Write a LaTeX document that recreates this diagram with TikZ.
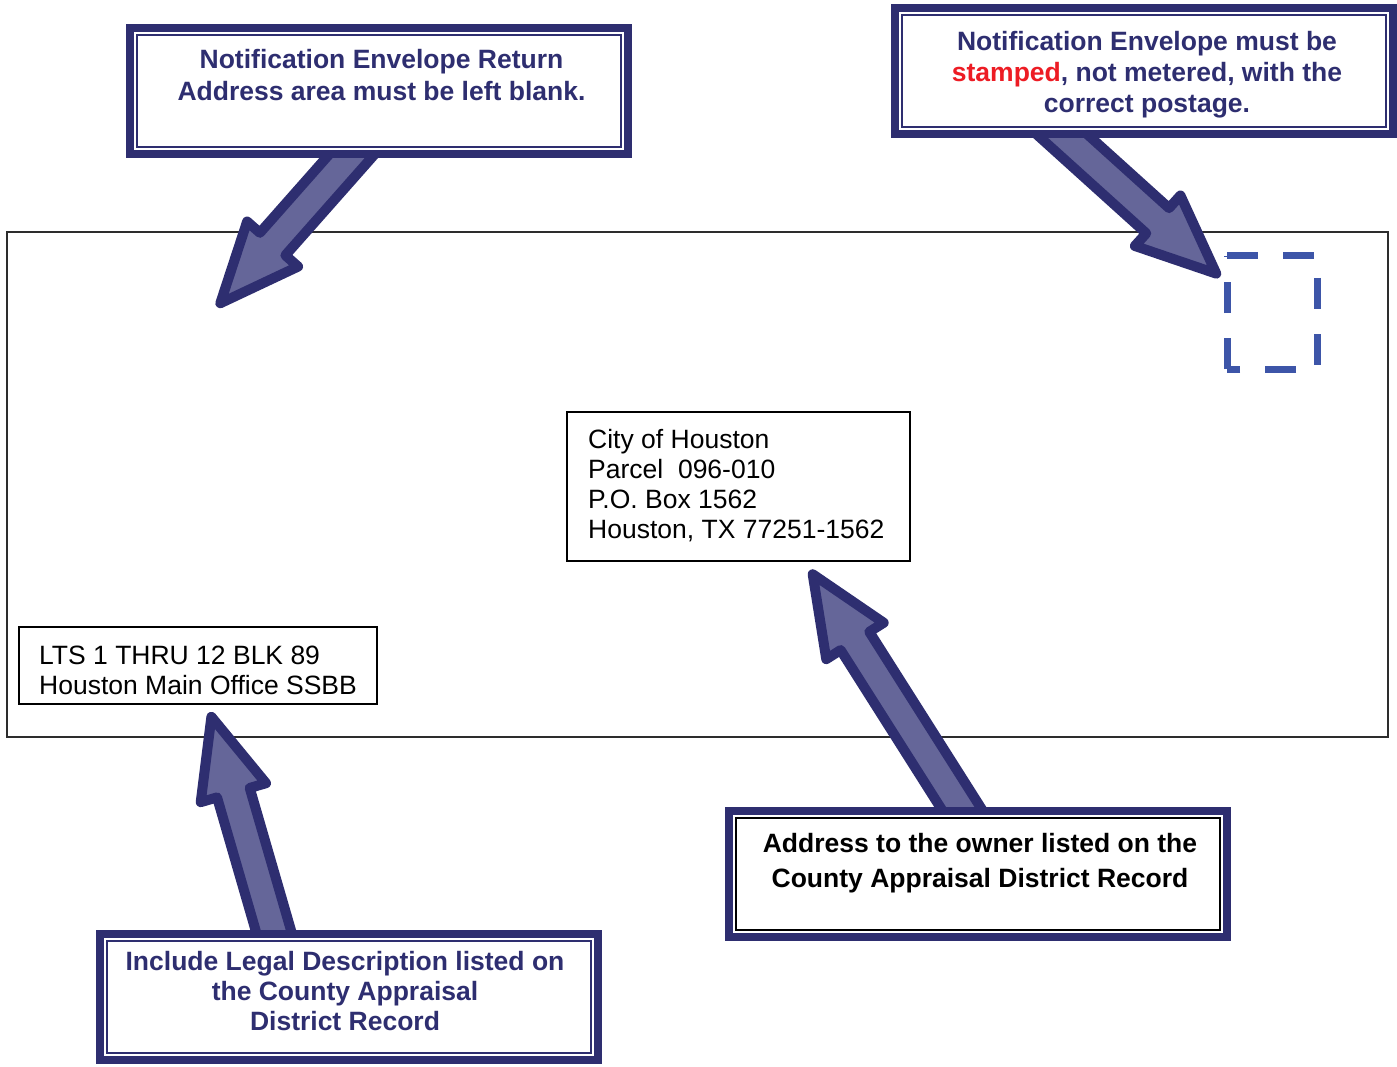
\documentclass[tikz,border=0pt]{standalone}
\usepackage{fontspec}
\setmainfont{Liberation Sans}
\usetikzlibrary{calc}
\definecolor{navy}{RGB}{46,46,112}
\definecolor{arrowfill}{RGB}{101,102,153}
\definecolor{stampblue}{RGB}{61,85,168}
\definecolor{stampred}{RGB}{237,28,36}
\definecolor{envline}{RGB}{45,45,45}
\newcommand\blockarrow[2]{%
  \path ($(#2)!5pt!(#1)$) coordinate (bt) ($(bt)!79pt!(#1)$) coordinate (bb);
  \draw[blockarrowstyle] ($(#1)!17pt!90:(#2)$) -- ($(bb)!17pt!90:(bt)$) -- ($(bb)!34pt!90:(bt)$) -- (bt)
     -- ($(bb)!34pt!-90:(bt)$) -- ($(bb)!17pt!-90:(bt)$) -- ($(#1)!17pt!-90:(#2)$) -- cycle;
}
\begin{document}
\begin{tikzpicture}[x=1pt,y=-1pt,
  blockarrowstyle/.style={draw=navy, fill=arrowfill, line width=10pt, line join=round},
  callout/.style={rectangle, minimum width=484pt, minimum height=112pt, inner sep=0pt, outer sep=0pt,
     fill=white, draw=navy, line width=2pt,
     preaction={draw=navy, line width=22pt},
     preaction={draw=white, line width=6pt}},
  callouttext/.style={anchor=north, align=center, inner sep=0pt, text=navy},
  plainbox/.style={rectangle, draw=black, line width=1.6pt, inner sep=0pt, outer sep=0pt},
  plaintext/.style={anchor=north west, align=left, inner sep=0pt, text=black,
     font=\fontsize{26.5pt}{30pt}\selectfont},
  stampdash/.style={draw=stampblue, line width=7pt, dash pattern=on 31pt off 25pt}
]
\useasboundingbox (0,0) rectangle (1397,1067);
\fill[white] (0,0) rectangle (1397,1067);

% envelope
\node[rectangle, draw=envline, line width=1.5pt, minimum width=1381pt, minimum height=505pt, inner sep=0pt] (env) at (697.5,484.5) {};

% address box
\node[plainbox, minimum width=343pt, minimum height=149pt] (addr) at (738.5,486.5) {};
\node[plaintext] (addrtext) at (588,429) {City of Houston\\Parcel\ \ 096-010\\P.O. Box 1562\\Houston, TX 77251-1562};

% legal description box
\node[plainbox, minimum width=358pt, minimum height=77pt] (legal) at (198,665.5) {};
\node[plaintext] (legaltext) at (39,646) {LTS 1 THRU 12 BLK 89\\Houston Main Office SSBB};

% stamp area
\node[rectangle, minimum width=90pt, minimum height=113pt, inner sep=0pt, outer sep=0pt] (stamp) at (1272,312.5) {};
\draw[stampdash] (stamp.north west) -- (stamp.north east) -- (stamp.south east) -- (stamp.south west);
\draw[stampdash] (stamp.south west) -- (stamp.north west);

% arrows
\coordinate (a1tail) at (369,135);  \coordinate (a1tip) at (217,307);
\coordinate (a2tail) at (1035,110); \coordinate (a2tip) at (1220,277);
\coordinate (a3tail) at (978,835);  \coordinate (a3tip) at (810,570);
\coordinate (a4tail) at (279,950);  \coordinate (a4tip) at (210,712);
\blockarrow{a1tail}{a1tip}
\blockarrow{a2tail}{a2tip}
\blockarrow{a3tail}{a3tip}
\blockarrow{a4tail}{a4tip}

% callouts
\node[callout] (b1) at (378.5,91) {};
\node[callouttext, font=\bfseries\fontsize{26.5pt}{32pt}\selectfont] (t1) at (381.5,49)
  {Notification Envelope Return\\Address area must be left blank.};

\node[callout] (b2) at (1143.5,71) {};
\node[callouttext, font=\bfseries\fontsize{26.5pt}{31pt}\selectfont] (t2) at (1147,31)
  {Notification Envelope must be\\{\color{stampred}stamped}, not metered, with the\\correct postage.};

\node[callout, draw=black] (b3) at (978,873.5) {};
\node[callouttext, text=black, font=\bfseries\fontsize{26.5pt}{35pt}\selectfont] (t3) at (980,833)
  {Address to the owner listed on the\\County Appraisal District Record};

\node[callout] (b4) at (348.5,996.5) {};
\node[callouttext, font=\bfseries\fontsize{26.5pt}{30pt}\selectfont] (t4) at (345,951)
  {Include Legal Description listed on\\the County Appraisal\\District Record};
\end{tikzpicture}
\end{document}
